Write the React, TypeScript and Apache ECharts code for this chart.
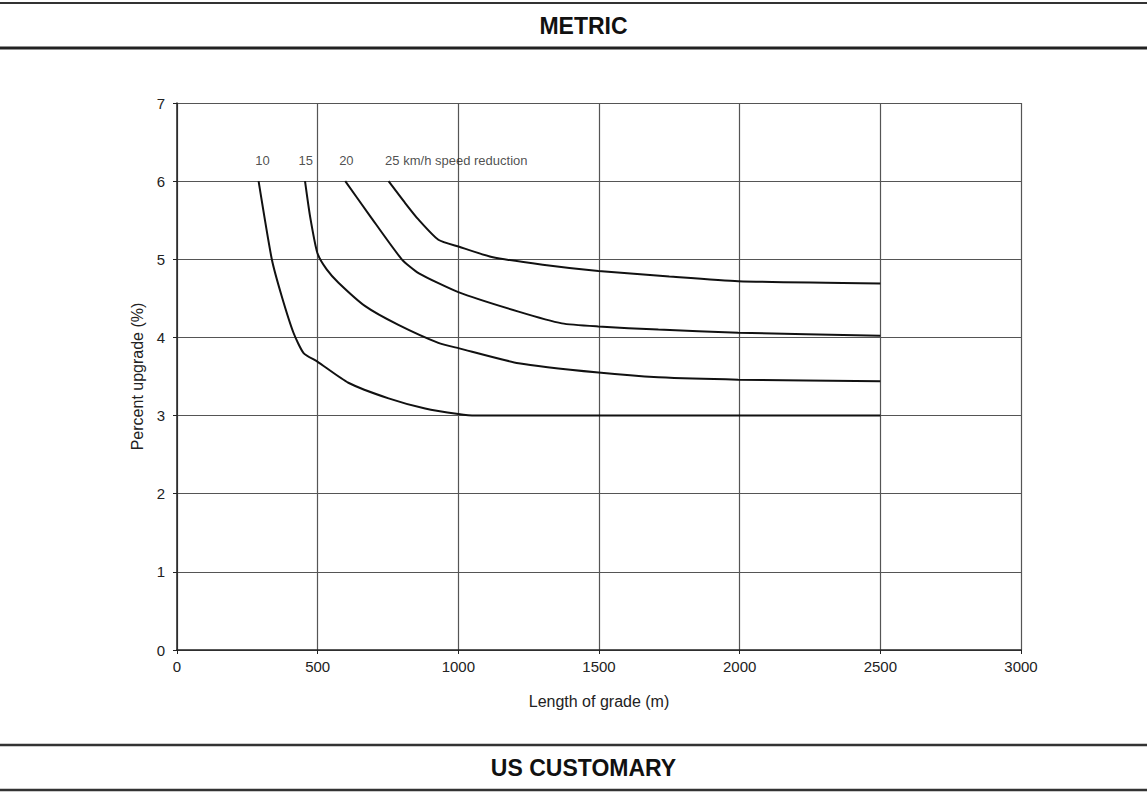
import React, { useEffect, useRef } from "react";
import * as echarts from "echarts";

// Tick values
const xTicks = [0, 500, 1000, 1500, 2000, 2500, 3000];
const yTicks = [0, 1, 2, 3, 4, 5, 6, 7];

// 10 km/h speed reduction
const x10 = [290, 337, 372, 414, 450, 499, 609, 752, 882, 1000, 1060, 2500];
const y10 = [6, 5, 4.53, 4.06, 3.8, 3.69, 3.42, 3.22, 3.09, 3.02, 3.0, 3.0];
// 15 km/h
const x15 = [455, 473, 499, 532, 574, 669, 787, 929, 1003, 1214, 1498, 1711, 1995, 2500];
const y15 = [6, 5.55, 5.08, 4.87, 4.7, 4.4, 4.16, 3.93, 3.86, 3.67, 3.55, 3.49, 3.46, 3.44];
// 20 km/h
const x20 = [598, 687, 799, 860, 1000, 1214, 1368, 1498, 1711, 1995, 2500];
const y20 = [6, 5.55, 5.0, 4.82, 4.58, 4.33, 4.18, 4.14, 4.1, 4.06, 4.02];
// 25 km/h
const x25 = [752, 811, 858, 929, 1003, 1119, 1300, 1498, 1750, 1995, 2500];
const y25 = [6, 5.72, 5.51, 5.25, 5.16, 5.03, 4.93, 4.85, 4.78, 4.72, 4.69];

const curveLabels = ["10", "15", "20", "25 km/h speed reduction"];
const labelX = [304, 458, 602, 738];
const labelY = 6.27;

const zip = (xs: number[], ys: number[]) => xs.map((x, i) => [x, ys[i]]);

export default function App() {
  const ref = useRef<HTMLDivElement>(null);
  useEffect(() => {
    if (!ref.current) return;
    const chart = echarts.init(ref.current, undefined, { renderer: "svg" });
    const font = "'Liberation Sans', Arial, sans-serif";
    const lineSeries = (xs: number[], ys: number[], name: string) => ({
      type: "line",
      name,
      data: zip(xs, ys),
      showSymbol: false,
      smooth: 0.2,
      lineStyle: { color: "#111", width: 2 },
      z: 5,
    });
    chart.setOption({
      animation: false,
      backgroundColor: "#fff",
      grid: { left: 177, right: 126, top: 103, bottom: 142 },
      xAxis: {
        type: "value",
        min: xTicks[0],
        max: xTicks[xTicks.length - 1],
        interval: xTicks[1] - xTicks[0],
        name: "Length of grade (m)",
        nameLocation: "middle",
        nameGap: 43,
        nameTextStyle: { fontFamily: font, fontSize: 16, color: "#222" },
        axisLine: { show: true, lineStyle: { color: "#222", width: 1.5 } },
        axisTick: { show: true, length: 4, lineStyle: { color: "#222" } },
        axisLabel: {
          fontFamily: font,
          fontSize: 15,
          color: "#222",
          margin: 9,
          formatter: (v: number) => String(v),
        },
        splitLine: { show: true, lineStyle: { color: "#555", width: 1.2 } },
      },
      yAxis: {
        type: "value",
        min: yTicks[0],
        max: yTicks[yTicks.length - 1],
        interval: yTicks[1] - yTicks[0],
        name: "Percent upgrade (%)",
        nameLocation: "middle",
        nameGap: 28,
        nameTextStyle: { fontFamily: font, fontSize: 16, color: "#222" },
        axisLine: { show: true, lineStyle: { color: "#222", width: 1.5 } },
        axisTick: { show: true, length: 4, lineStyle: { color: "#222" } },
        axisLabel: {
          fontFamily: font,
          fontSize: 15,
          color: "#222",
          margin: 12,
          formatter: (v: number) => String(v),
        },
        splitLine: { show: true, lineStyle: { color: "#555", width: 1.2 } },
      },
      series: [
        lineSeries(x10, y10, "10"),
        lineSeries(x15, y15, "15"),
        lineSeries(x20, y20, "20"),
        lineSeries(x25, y25, "25"),
        {
          type: "scatter",
          symbolSize: 1,
          itemStyle: { color: "rgba(0,0,0,0)" },
          z: 6,
          data: curveLabels.map((t, i) => ({
            value: [labelX[i], labelY],
            label: {
              show: true,
              formatter: t,
              position: i === curveLabels.length - 1 ? "right" : "inside",
              distance: 0,
              fontFamily: font,
              fontSize: 13,
              color: "#222",
            },
          })),
        },
      ],
      graphic: [
        { type: "line", shape: { x1: 0, y1: 3, x2: 1147, y2: 3 }, style: { stroke: "#333", lineWidth: 2 } },
        { type: "line", shape: { x1: 0, y1: 48, x2: 1147, y2: 48 }, style: { stroke: "#222", lineWidth: 3 } },
        { type: "line", shape: { x1: 0, y1: 745, x2: 1147, y2: 745 }, style: { stroke: "#333", lineWidth: 2.5 } },
        { type: "line", shape: { x1: 0, y1: 790, x2: 1147, y2: 790 }, style: { stroke: "#333", lineWidth: 2.5 } },
        {
          type: "text",
          x: 583.5,
          y: 26,
          style: {
            text: "METRIC",
            fontFamily: font,
            fontSize: 23,
            fontWeight: "bold",
            fill: "#111",
            align: "center",
            verticalAlign: "middle",
          },
        },
        {
          type: "text",
          x: 583.5,
          y: 768,
          style: {
            text: "US CUSTOMARY",
            fontFamily: font,
            fontSize: 23,
            fontWeight: "bold",
            fill: "#111",
            align: "center",
            verticalAlign: "middle",
          },
        },
      ],
    });
    return () => chart.dispose();
  }, []);
  return (
    <div
      ref={ref}
      style={{ position: "absolute", left: 0, top: 0, width: 1147, height: 792, background: "#fff" }}
    />
  );
}
